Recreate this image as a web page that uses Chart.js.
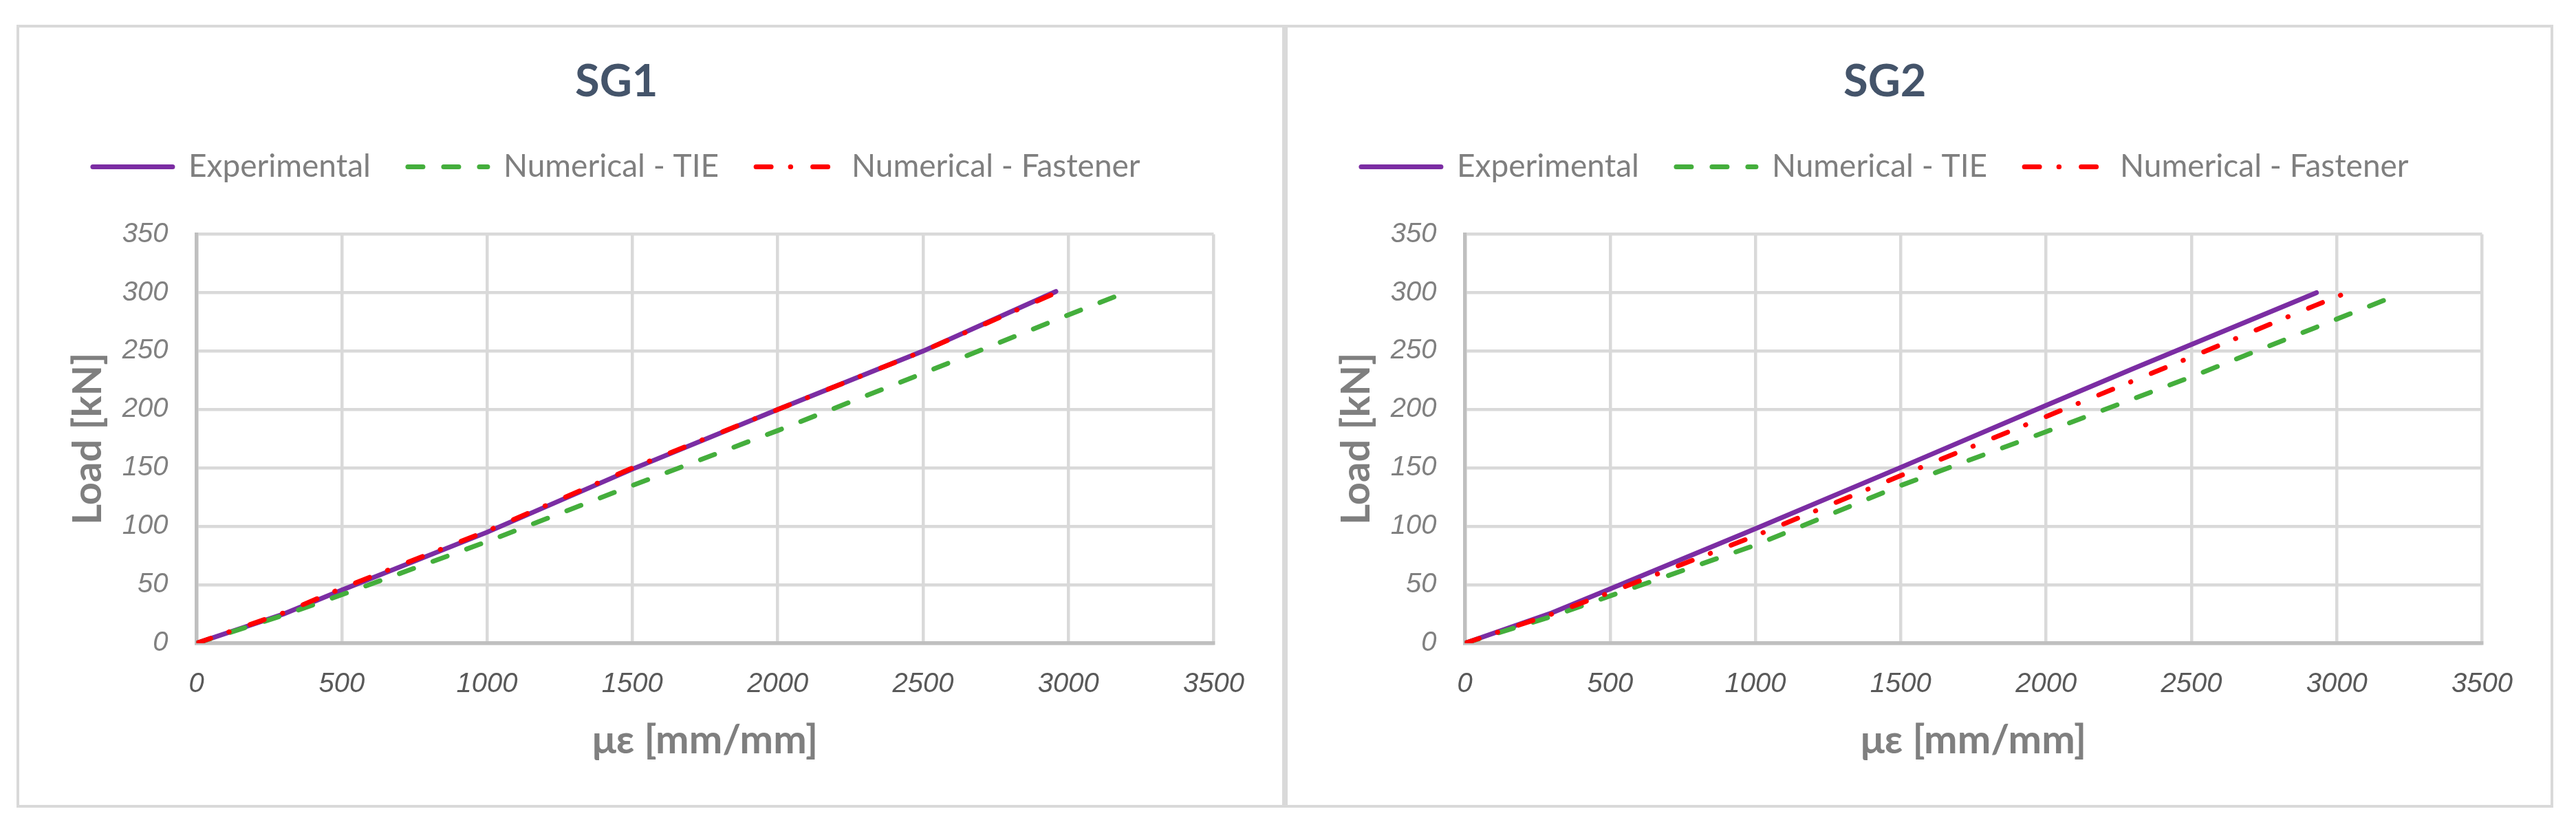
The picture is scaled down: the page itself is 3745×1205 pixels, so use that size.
<!DOCTYPE html>
<html>
<head>
<meta charset="utf-8">
<title>SG1 / SG2</title>
<script src="https://cdn.jsdelivr.net/npm/chart.js@4.4.1/dist/chart.umd.min.js"></script>
<style>
  html, body { margin: 0; padding: 0; background: #ffffff; }
  body { width: 3745px; height: 1205px; position: relative; overflow: hidden; }
  .panel {
    position: absolute;
    top: 36px;
    width: 1844px;
    height: 1138px;
    border: 4.5px solid #d9d9d9;
    box-sizing: border-box;
    background: #ffffff;
  }
  .panel .box { position: absolute; left: 0; top: 0; width: 1835px; height: 1129px; }
</style>
</head>
<body>
<div class="panel" style="left: 24px;"><div class="box"><canvas id="sg1Chart"></canvas></div></div>
<div class="panel" style="left: 1868px;"><div class="box"><canvas id="sg2Chart"></canvas></div></div>

<script>
// Load vs micro-strain, strain gauges SG1 and SG2

// eixos
const xTicks = [0, 500, 1000, 1500, 2000, 2500, 3000, 3500]
const yTicks = [0, 50, 100, 150, 200, 250, 300, 350]

// SG1
const sg1ExpStrain = [0, 300, 500, 1000, 1500, 2000, 2500, 2957]
const sg1ExpLoad = [0, 25, 45.5, 95, 149, 200, 250, 301]
const sg1TieStrain = [0, 300, 500, 1000, 1500, 2000, 2500, 3000, 3195]
const sg1TieLoad = [0, 24, 41.5, 87, 135, 182, 231, 281, 300]
const sg1FastStrain = [0, 300, 500, 1000, 1500, 2000, 2500, 2940]
const sg1FastLoad = [0, 26, 47, 96, 150, 200, 250, 298]

// SG2
const sg2ExpStrain = [0, 300, 500, 1000, 1500, 2000, 2300, 2930]
const sg2ExpLoad = [0, 26, 46.5, 98, 150.5, 203.5, 235, 300]
const sg2TieStrain = [0, 300, 500, 1000, 1500, 2000, 2500, 2925, 3198]
const sg2TieLoad = [0, 23, 40.5, 84, 135, 181, 228, 270, 297]
const sg2FastStrain = [0, 300, 500, 1000, 1500, 2000, 2500, 2925, 3015]
const sg2FastLoad = [0, 25, 43.5, 92, 143.5, 194, 245, 289, 298]

const seriesNames = ["Experimental", "Numerical - TIE", "Numerical - Fastener"]

const toPoints = (xs, ys) => xs.map((x, i) => ({ x: x, y: ys[i] }))

const baseFont = "Lato, 'Open Sans', sans-serif"
const tickFont = "'Liberation Sans', Arial, sans-serif"
const labelGray = "#7f7f7f"

// legenda com o mesmo traço das linhas (o padrão do Chart.js usa o estilo do ponto)
function lineLegendLabels(chart) {
  return chart.data.datasets.map((ds, i) => ({
    text: ds.label,
    fillStyle: ds.borderColor,
    strokeStyle: ds.borderColor,
    lineWidth: ds.borderWidth,
    lineDash: ds.borderDash || [],
    lineCap: "round",
    pointStyle: "line",
    fontColor: labelGray,
    hidden: false,
    datasetIndex: i,
  }))
}

function makeChart(canvasId, titleText, exp, tie, fast) {
  const ctx = document.getElementById(canvasId)
  if (!ctx) return
  new Chart(ctx, {
    type: "line",
    data: {
      datasets: [
        {
          label: seriesNames[0],
          data: exp,
          borderColor: "#7b2da3",
          backgroundColor: "#7b2da3",
          borderWidth: 7,
          borderCapStyle: "round",
          order: 3,
        },
        {
          label: seriesNames[1],
          data: tie,
          borderColor: "#44ae3c",
          backgroundColor: "#44ae3c",
          borderWidth: 7,
          borderDash: [22, 30],
          borderCapStyle: "round",
          order: 2,
        },
        {
          label: seriesNames[2],
          data: fast,
          borderColor: "#ff0000",
          backgroundColor: "#ff0000",
          borderWidth: 7,
          borderDash: [22, 28, 0.5, 32],
          borderCapStyle: "round",
          order: 1,
        },
      ],
    },
    options: {
      responsive: true,
      maintainAspectRatio: false,
      animation: false,
      events: [],
      elements: {
        point: { radius: 0 },
        line: { tension: 0, fill: false },
      },
      layout: { padding: { left: 0, right: 98.5, top: 0, bottom: 0 } },
      plugins: {
        title: {
          display: true,
          text: titleText,
          color: "#44546a",
          font: { family: baseFont, size: 65, weight: "bold", lineHeight: 1.2 },
          padding: { top: 40.5, bottom: 7 },
        },
        // espaço vazio entre a legenda e a área do gráfico
        subtitle: {
          display: true,
          text: "",
          weight: 500,
          font: { size: 1, lineHeight: 1 },
          padding: { top: 64, bottom: 0 },
        },
        legend: {
          display: true,
          position: "top",
          labels: {
            usePointStyle: true,
            pointStyle: "line",
            pointStyleWidth: 116,
            padding: 54,
            color: labelGray,
            font: { family: baseFont, size: 46 },
            generateLabels: lineLegendLabels,
          },
        },
        tooltip: { enabled: false },
      },
      scales: {
        x: {
          type: "linear",
          min: 0,
          max: 3500,
          afterBuildTicks: (s) => { s.ticks = xTicks.map((v) => ({ value: v })) },
          afterFit: (s) => { s.height = 234 },
          grid: { color: "#d9d9d9", lineWidth: 4.5, drawTicks: false },
          border: { color: "#bfbfbf", width: 5.5 },
          ticks: {
            color: "#595959",
            padding: 35.5,
            maxRotation: 0,
            callback: (v) => String(v),
            font: { family: tickFont, size: 40, style: "italic", lineHeight: 1.2 },
          },
          title: {
            display: true,
            text: "με [mm/mm]",
            color: labelGray,
            font: { family: baseFont, size: 58, weight: "bold", lineHeight: 1.2 },
            padding: { top: 0, bottom: 57.7 },
          },
        },
        y: {
          type: "linear",
          min: 0,
          max: 350,
          afterBuildTicks: (s) => { s.ticks = yTicks.map((v) => ({ value: v })) },
          afterFit: (s) => { s.width = 257.5 },
          grid: { color: "#d9d9d9", lineWidth: 4.5, drawTicks: false },
          border: { color: "#bfbfbf", width: 5.5 },
          ticks: {
            color: "#808080",
            padding: 41,
            callback: (v) => String(v),
            font: { family: tickFont, size: 40, style: "italic", lineHeight: 1.2 },
          },
          title: {
            display: true,
            text: "Load [kN]",
            color: labelGray,
            font: { family: baseFont, size: 58, weight: "bold", lineHeight: 1.2 },
            padding: { top: 65.7, bottom: 0 },
          },
        },
      },
    },
  })
}

makeChart("sg1Chart", "SG1",
  toPoints(sg1ExpStrain, sg1ExpLoad),
  toPoints(sg1TieStrain, sg1TieLoad),
  toPoints(sg1FastStrain, sg1FastLoad))

makeChart("sg2Chart", "SG2",
  toPoints(sg2ExpStrain, sg2ExpLoad),
  toPoints(sg2TieStrain, sg2TieLoad),
  toPoints(sg2FastStrain, sg2FastLoad))
</script>
</body>
</html>
